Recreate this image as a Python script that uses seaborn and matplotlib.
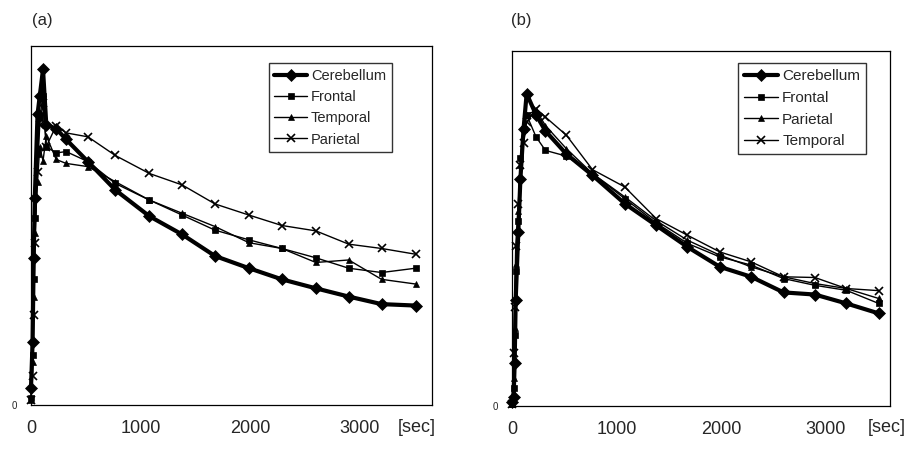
import numpy as np
import pandas as pd
import matplotlib
matplotlib.use("Agg")
import matplotlib.pyplot as plt
import seaborn as sns

# sample times [sec]
times = [0, 15, 25, 35, 60, 80, 110, 140, 230, 320, 520, 770, 1080, 1380,
         1680, 1990, 2290, 2600, 2900, 3200, 3510]

# panel (a) curves, relative units (axis top = 100)
a_cerebellum = [4.6, 17.6, 41, 57.6, 81, 86, 93.5, 78, 77, 74, 67.8, 59.9, 52.6,
                47.5, 41.5, 38.1, 35, 32.5, 30.2, 28.1, 27.7]
a_frontal = [2, 14, 35, 52, 70, 80, 86, 72, 70.2, 70.6, 67.8, 61.7, 57.1,
             52.9, 48.7, 46, 43.6, 41, 38.1, 36.9, 38.1]
a_temporal = [1.5, 12, 30, 48, 62, 72, 68, 75, 68.4, 67.3, 66.4, 62.2, 57.1,
              53.4, 49.7, 45.2, 43.6, 39.7, 40.4, 35, 33.7]
a_parietal = [1.4, 8, 25, 45, 65, 78, 84, 72, 77.8, 75.8, 74.7, 69.5, 64.5,
              61.3, 56, 52.9, 50, 48.5, 44.8, 43.6, 42]

# panel (b) curves
b_cerebellum = [1, 2.5, 12, 30, 49, 64, 78, 88, 82, 77.5, 71, 65, 57,
                50.9, 44.8, 39.2, 36.4, 32, 31.4, 28.9, 26.1]
b_frontal = [0.5, 5, 20, 38, 52, 70, 78, 82, 75.8, 72, 70.4, 65.5, 58.4,
             51.6, 45.8, 42, 39.7, 35.9, 34, 32.6, 28.9]
b_parietal = [0.5, 8, 22, 40, 55, 68, 78, 82, 83.3, 79, 72.5, 65.5, 58.9,
              52.2, 46.7, 42.5, 39.2, 36.4, 34.5, 33.1, 30.3]
b_temporal = [0.5, 15, 28, 45, 57, 68, 74, 80, 83.8, 81.4, 76.3, 66.6, 61.7,
              52.8, 48.1, 43.4, 40.6, 36.4, 36.2, 33.1, 32.5]

xtick_vals = [0, 1000, 2000, 3000]

# line style by legend position: (marker, markersize, linewidth)
styles = [("D", 6, 3.0), ("s", 4.5, 1.0), ("^", 5, 1.0), ("x", 6, 1.0)]

sns.set_theme(style="white")
plt.rcParams["font.family"] = ["Liberation Sans", "DejaVu Sans"]

fig = plt.figure(figsize=(9.16, 4.51), dpi=100)
ax_a = fig.add_axes([0.0338, 0.102, 0.4378, 0.796])
ax_b = fig.add_axes([0.559, 0.0998, 0.4127, 0.787])

panels = [
    (ax_a, [("Cerebellum", a_cerebellum), ("Frontal", a_frontal),
            ("Temporal", a_temporal), ("Parietal", a_parietal)],
     3660, (0.900, 0.953), 10.5, "(a)", 42),
    (ax_b, [("Cerebellum", b_cerebellum), ("Frontal", b_frontal),
            ("Parietal", b_parietal), ("Temporal", b_temporal)],
     3620, (0.937, 0.966), 11, "(b)", 521),
]

for ax, series, xmax, anchor, legfs, tag, tag_x in panels:
    for (name, vals), (mk, ms, lw) in zip(series, styles):
        df = pd.DataFrame({"time": times, "value": vals})
        sns.lineplot(data=df, x="time", y="value", ax=ax, color="black",
                     lw=lw, marker=mk, ms=ms, mew=1.2 if mk == "x" else 0.5,
                     mec="black", label=name, sort=False, clip_on=False)
    ax.set_xlim(0, xmax)
    ax.set_ylim(0, 100)
    ax.set_xticks(xtick_vals)
    ax.set_xticklabels([str(v) for v in xtick_vals], fontsize=13)
    ax.set_yticks([0])
    ax.set_yticklabels(["0"], fontsize=7)
    ax.tick_params(axis="x", length=0, pad=11)
    ax.tick_params(axis="y", length=0, pad=10)
    ax.set_xlabel("")
    ax.set_ylabel("")
    for sp in ax.spines.values():
        sp.set_color("black")
        sp.set_linewidth(0.9)
    leg = ax.legend(loc="upper right", bbox_to_anchor=anchor, fontsize=legfs,
                    frameon=True, fancybox=False, edgecolor="black",
                    handlelength=2.2, handletextpad=0.3, labelspacing=0.5,
                    borderpad=0.4, borderaxespad=0)
    leg.get_frame().set_linewidth(1.0)
    fig.text(tag_x / 916, 1 - 20 / 451, tag, fontsize=12, ha="center", va="center")

fig.text(417 / 916, 1 - 427 / 451, "[sec]", fontsize=13, ha="center", va="center")
fig.text(887 / 916, 1 - 427 / 451, "[sec]", fontsize=13, ha="center", va="center")

fig.savefig("out.png", dpi=100)
